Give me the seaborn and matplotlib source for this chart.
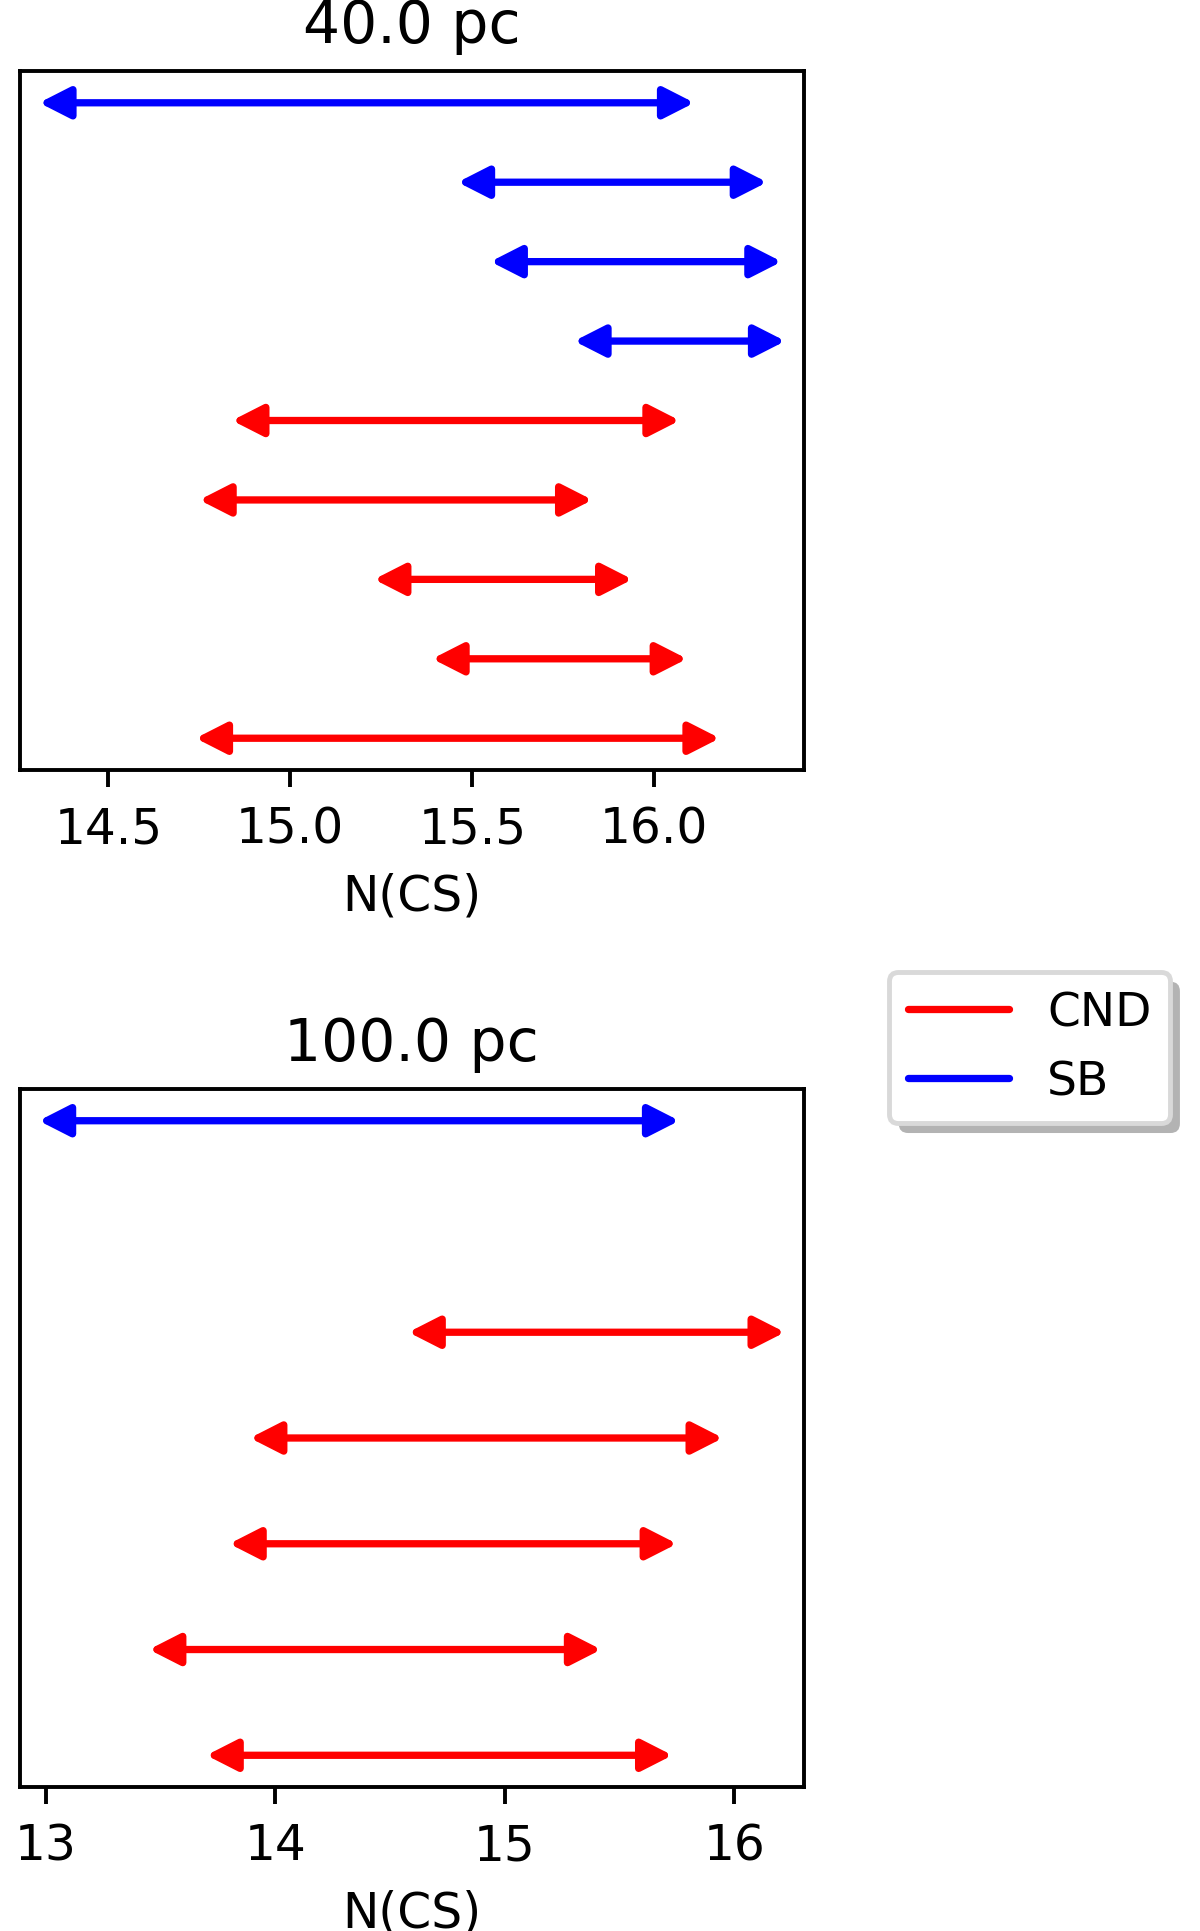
import matplotlib
matplotlib.use("Agg")
import matplotlib.pyplot as plt
import numpy as np
import pandas as pd
import seaborn as sns
from matplotlib.lines import Line2D

# ---------------- data ----------------
titles = ["40.0 pc", "100.0 pc"]
xlabel = "N(CS)"

# Panel 1: 40.0 pc (row 0 = top)
p40_region = ["SB", "SB", "SB", "SB", "CND", "CND", "CND", "CND", "CND"]
p40_row = [0, 1, 2, 3, 4, 5, 6, 7, 8]
p40_low = [14.31, 15.46, 15.55, 15.78, 14.84, 14.75, 15.23, 15.39, 14.74]
p40_high = [16.11, 16.31, 16.35, 16.36, 16.07, 15.83, 15.94, 16.09, 16.18]
p40_xticks = [14.5, 15.0, 15.5, 16.0]

# Panel 2: 100.0 pc (row 1 is empty)
p100_region = ["SB", "CND", "CND", "CND", "CND", "CND"]
p100_row = [0, 2, 3, 4, 5, 6]
p100_low = [12.97, 14.58, 13.89, 13.80, 13.45, 13.70]
p100_high = [15.76, 16.22, 15.95, 15.75, 15.42, 15.73]
p100_xticks = [13, 14, 15, 16]

legend_labels = ["CND", "SB"]
region_colors = {"CND": "red", "SB": "blue"}

# ---------------- style ----------------
sns.set_style("ticks", {
    "axes.edgecolor": "black",
    "xtick.color": "black",
    "ytick.color": "black",
    "text.color": "black",
    "axes.labelcolor": "black",
    "xtick.direction": "out",
})
plt.rcParams["font.family"] = ["DejaVu Sans"]
plt.rcParams["font.size"] = 10
plt.rcParams["axes.linewidth"] = 0.8
plt.rcParams["xtick.major.width"] = 0.8
plt.rcParams["xtick.major.size"] = 3.5
plt.rcParams["xtick.major.pad"] = 3.5
plt.rcParams["xtick.labelsize"] = 10
plt.rcParams["axes.labelsize"] = 10
plt.rcParams["axes.labelpad"] = 4.0
plt.rcParams["axes.titlesize"] = 12
plt.rcParams["axes.titlepad"] = 6.0

DPI = 350
fig = plt.figure(figsize=(1200 / DPI, 1932 / DPI), dpi=DPI)
ax1 = fig.add_axes([0.01625, 0.60093, 0.65335, 0.3618])
ax2 = fig.add_axes([0.01625, 0.07453, 0.65335, 0.36129])

panels = [
    (ax1, p40_region, p40_row, p40_low, p40_high, p40_xticks, (14.256, 16.41), (8.4, -0.4)),
    (ax2, p100_region, p100_row, p100_low, p100_high, p100_xticks, (12.886, 16.301), (6.3, -0.3)),
]

for (ax, reg, row, lo, hi, xt, xl, yl), title in zip(panels, titles):
    df = pd.DataFrame({"region": reg, "row": row, "low": lo, "high": hi})
    ax.set_xlim(*xl)
    ax.set_ylim(*yl)
    for _, r in df.iterrows():
        ax.annotate(
            "",
            xy=(r["high"], r["row"]),
            xytext=(r["low"], r["row"]),
            xycoords="data",
            textcoords="data",
            arrowprops=dict(
                arrowstyle="<|-|>,head_length=0.53,head_width=0.27",
                color=region_colors[r["region"]],
                lw=1.5,
                shrinkA=0,
                shrinkB=0,
                mutation_scale=10,
            ),
        )
    ax.set_xticks(xt)
    ax.set_yticks([])
    ax.set_title(title)
    ax.set_xlabel(xlabel)
    for s in ax.spines.values():
        s.set_visible(True)
        s.set_color("black")
        s.set_linewidth(0.8)

handles = [Line2D([], [], color=region_colors[k], lw=1.5) for k in legend_labels]
fig.legend(
    handles, legend_labels,
    loc="upper left",
    bbox_to_anchor=(889 / 1200, 1 - 973 / 1932),
    bbox_transform=fig.transFigure,
    borderaxespad=0,
    frameon=True,
    fancybox=True,
    framealpha=1,
    edgecolor="0.85",
    shadow={"facecolor": "#b3b3b3", "edgecolor": "none", "alpha": 1},
    handlelength=2.15,
    fontsize=9.7,
)

fig.savefig("out.png", dpi=DPI)
